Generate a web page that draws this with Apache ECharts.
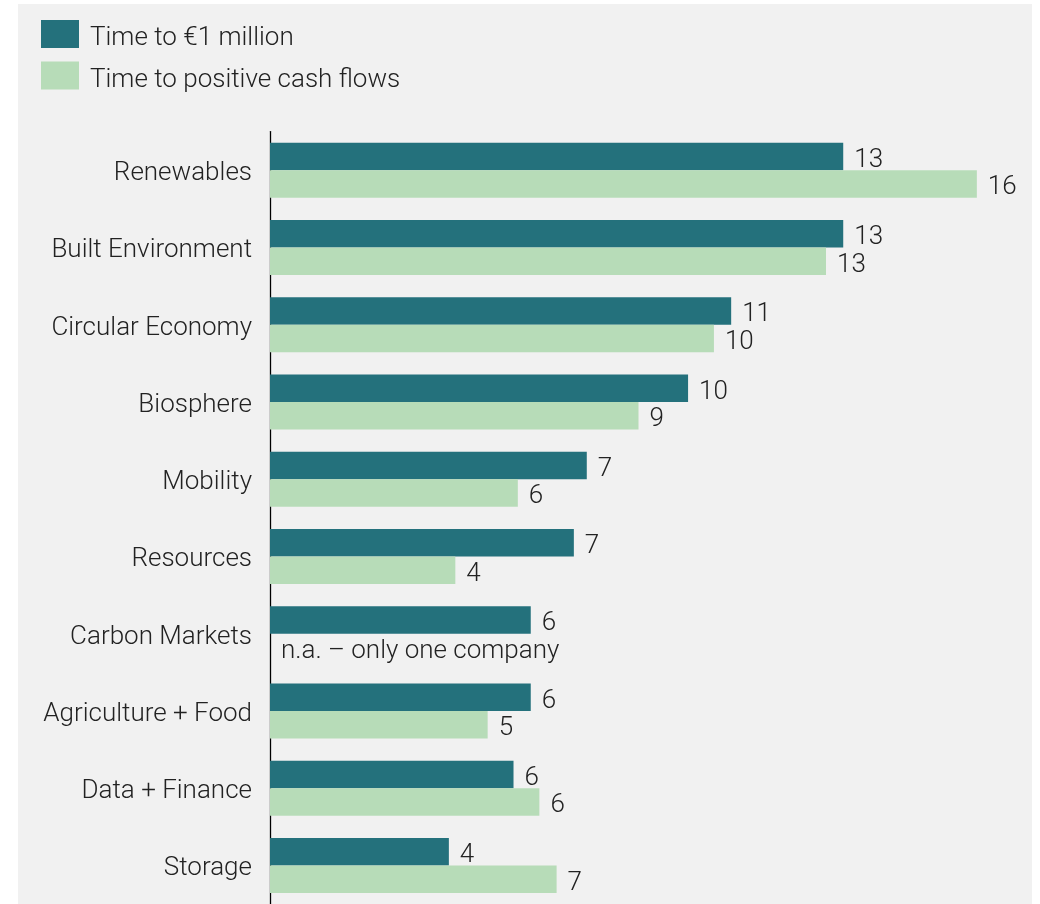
<!DOCTYPE html>
<html>
<head>
<meta charset="utf-8">
<script src="https://cdn.jsdelivr.net/npm/echarts@6/dist/echarts.min.js"></script>
<style>
  html, body { margin: 0; padding: 0; background: #ffffff; }
  #panel { position: absolute; left: 18px; top: 4px; width: 1014px; height: 900px; background: #f1f1f1; }
  #chart { position: absolute; left: 0; top: 0; width: 1040px; height: 904px; }
</style>
</head>
<body>
<div id="panel"></div>
<div id="chart"></div>
<script>
const categories = ["Renewables", "Built Environment", "Circular Economy", "Biosphere", "Mobility",
  "Resources", "Carbon Markets", "Agriculture + Food", "Data + Finance", "Storage"];
const seriesNames = ["Time to €1 million", "Time to positive cash flows"];
const timeToMillion = [13.3, 13.3, 10.7, 9.7, 7.35, 7.05, 6.05, 6.05, 5.65, 4.15];
const timeToCashFlow = [16.4, 12.9, 10.3, 8.55, 5.75, 4.3, null, 5.05, 6.25, 6.65];
const naNote = "n.a. – only one company";
const colors = ["#24717c", "#b7dcb8"];

const FONT = "Roboto, 'Liberation Sans', Arial, sans-serif";
const chart = echarts.init(document.getElementById('chart'), null, { renderer: 'canvas' });

const lightData = timeToCashFlow.map(v => v === null
  ? { value: 0, label: { formatter: naNote } }
  : v);

const textBase = { fontFamily: FONT, fontWeight: 300, fontSize: 26, color: '#222' };

const labelCommon = Object.assign({
  show: true,
  position: 'right',
  distance: 11,
  offset: [0, 4],
  formatter: p => String(Math.round(p.value))
}, textBase);

chart.setOption({
  backgroundColor: 'transparent',
  animation: false,
  legend: {
    orient: 'vertical',
    left: 41,
    top: 20,
    padding: 0,
    itemWidth: 38,
    itemHeight: 28,
    itemGap: 10,
    icon: 'rect',
    selectedMode: false,
    formatter: name => '{a|' + name + '}',
    textStyle: Object.assign({ rich: { a: Object.assign({ padding: [9, 0, 0, 6] }, textBase) } }, textBase),
    data: seriesNames
  },
  grid: { left: 270, top: 131.6, width: 732.7, height: 773.6, containLabel: false },
  xAxis: {
    type: 'value', min: 0, max: 17, show: false
  },
  yAxis: {
    type: 'category',
    inverse: true,
    data: categories,
    axisLine: { show: true, lineStyle: { color: '#000', width: 1.3 } },
    axisTick: { show: false },
    splitLine: { show: false },
    axisLabel: Object.assign({
      margin: 18,
      formatter: v => '{a|' + v + '}',
      rich: { a: Object.assign({ padding: [7, 0, 0, 0] }, textBase) }
    }, textBase)
  },
  series: [
    {
      name: seriesNames[0], type: 'bar', data: timeToMillion,
      barWidth: 27.5, barGap: '0%',
      itemStyle: { color: colors[0] },
      label: labelCommon
    },
    {
      name: seriesNames[1], type: 'bar', data: lightData,
      barWidth: 27.5, barGap: '0%',
      itemStyle: { color: colors[1] },
      label: labelCommon
    }
  ]
});
</script>
</body>
</html>
